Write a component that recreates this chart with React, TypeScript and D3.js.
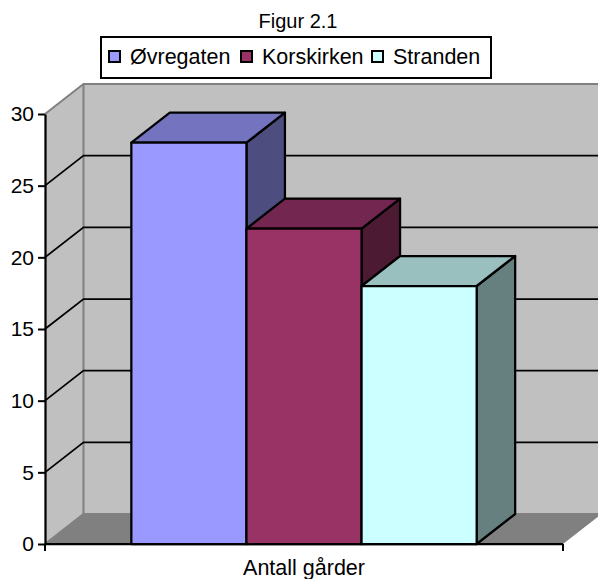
import { useEffect, useRef } from "react";
import * as d3 from "d3";

const title = "Figur 2.1";
const category = "Antall gårder";
const seriesNames = ["Øvregaten", "Korskirken", "Stranden"];
const seriesValues = [28, 22, 18];
const frontColors = ["#9999ff", "#993366", "#ccffff"];
const topColors = ["#7373bf", "#732650", "#99bfbf"];
const sideColors = ["#4d4d80", "#4d1a33", "#668080"];
const yTicks = [0, 5, 10, 15, 20, 25, 30];
const legendSwatchX = [109, 241, 372];

const width = 598;
const height = 579;
const fontFamily = "'Liberation Sans', Arial, sans-serif";

export default function App() {
  const svgRef = useRef<SVGSVGElement>(null);

  useEffect(() => {
    if (!svgRef.current) return;

    // Clear previous content
    d3.select(svgRef.current).selectAll("*").remove();
    const svg = d3.select(svgRef.current);

    const x0 = 45;
    const x1 = 563;
    const depthX = 38.5;
    const depthY = -30;

    const y = d3.scaleLinear().domain([0, 30]).range([544, 114]);
    const x = d3
      .scaleBand<string>()
      .domain(seriesNames)
      .range([x0, x1])
      .paddingInner(0)
      .paddingOuter(0.75);

    const poly = (pts: number[][]) => pts.map((p) => p.join(",")).join(" ");
    const yTop = y(30);
    const yBase = y(0);

    // Walls and floor
    svg
      .append("polygon")
      .attr("points", poly([[x0 + depthX, yTop + depthY], [x1 + depthX, yTop + depthY], [x1 + depthX, yBase + depthY], [x0 + depthX, yBase + depthY]]))
      .attr("fill", "#c0c0c0");
    svg
      .append("polygon")
      .attr("points", poly([[x0, yTop], [x0 + depthX, yTop + depthY], [x0 + depthX, yBase + depthY], [x0, yBase]]))
      .attr("fill", "#c0c0c0");
    svg
      .append("polygon")
      .attr("points", poly([[x0, yBase], [x0 + depthX, yBase + depthY], [x1 + depthX, yBase + depthY], [x1, yBase]]))
      .attr("fill", "#808080");

    // Wall edges
    svg
      .append("polyline")
      .attr("points", poly([[x0, yTop], [x0 + depthX, yTop + depthY], [width, yTop + depthY]]))
      .attr("fill", "none")
      .attr("stroke", "#808080")
      .attr("stroke-width", 2);
    svg
      .append("polyline")
      .attr("points", poly([[x0, yBase], [x0 + depthX, yBase + depthY], [width, yBase + depthY]]))
      .attr("fill", "none")
      .attr("stroke", "#808080")
      .attr("stroke-width", 2);
    svg
      .append("line")
      .attr("x1", x0 + depthX)
      .attr("x2", x0 + depthX)
      .attr("y1", yTop + depthY)
      .attr("y2", yBase + depthY)
      .attr("stroke", "#808080")
      .attr("stroke-width", 2);

    // Gridlines
    yTicks
      .filter((t) => t > 0 && t < 30)
      .forEach((t) => {
        svg
          .append("polyline")
          .attr("points", poly([[x0, y(t)], [x0 + depthX, y(t) + depthY], [width, y(t) + depthY]]))
          .attr("fill", "none")
          .attr("stroke", "#000")
          .attr("stroke-width", 1.75);
      });

    // Bars
    seriesNames.forEach((name, i) => {
      const left = x(name) as number;
      const right = left + x.bandwidth();
      const top = y(seriesValues[i]);
      const g = svg
        .append("g")
        .attr("stroke", "#000")
        .attr("stroke-width", 2.25)
        .attr("stroke-linejoin", "round");
      g.append("polygon")
        .attr("points", poly([[right, top], [right + depthX, top + depthY], [right + depthX, yBase + depthY], [right, yBase]]))
        .attr("fill", sideColors[i]);
      g.append("polygon")
        .attr("points", poly([[left, top], [left + depthX, top + depthY], [right + depthX, top + depthY], [right, top]]))
        .attr("fill", topColors[i]);
      g.append("rect")
        .attr("x", left)
        .attr("y", top)
        .attr("width", right - left)
        .attr("height", yBase - top)
        .attr("fill", frontColors[i]);
    });

    // Y axis
    const yAxis = svg
      .append("g")
      .attr("transform", `translate(${x0},0)`)
      .call(d3.axisLeft(y).tickValues(yTicks).tickSize(7).tickSizeOuter(0).tickPadding(4));
    yAxis.select(".domain").attr("stroke", "#000").attr("stroke-width", 2.25);
    yAxis.selectAll(".tick line").attr("stroke", "#000").attr("stroke-width", 2);
    yAxis
      .selectAll("text")
      .attr("font-family", fontFamily)
      .attr("font-size", 21)
      .attr("fill", "#000");

    // X axis
    svg
      .append("line")
      .attr("x1", x0)
      .attr("x2", x1)
      .attr("y1", yBase)
      .attr("y2", yBase)
      .attr("stroke", "#000")
      .attr("stroke-width", 2.25);
    [x0, x1].forEach((tx) => {
      svg
        .append("line")
        .attr("x1", tx)
        .attr("x2", tx)
        .attr("y1", yBase)
        .attr("y2", yBase + 7)
        .attr("stroke", "#000")
        .attr("stroke-width", 2);
    });

    const addText = (label: string, tx: number, ty: number, anchor: string, size: number) =>
      svg
        .append("text")
        .attr("x", tx)
        .attr("y", ty)
        .attr("text-anchor", anchor)
        .attr("font-family", fontFamily)
        .attr("font-size", size)
        .attr("fill", "#000")
        .text(label);

    addText(category, 304, 575, "middle", 21.5);
    addText(title, 298, 28, "middle", 20);

    // Legend
    svg
      .append("rect")
      .attr("x", 101)
      .attr("y", 37)
      .attr("width", 390)
      .attr("height", 41)
      .attr("fill", "#fff")
      .attr("stroke", "#000")
      .attr("stroke-width", 2);
    seriesNames.forEach((name, i) => {
      svg
        .append("rect")
        .attr("x", legendSwatchX[i])
        .attr("y", 51)
        .attr("width", 11)
        .attr("height", 11)
        .attr("fill", frontColors[i])
        .attr("stroke", "#000")
        .attr("stroke-width", 2);
      addText(name, legendSwatchX[i] + 21, 64, "start", 21.5);
    });
  }, []);

  return (
    <svg
      ref={svgRef}
      width={width}
      height={height}
      viewBox={`0 0 ${width} ${height}`}
      style={{ position: "absolute", left: 0, top: 0 }}
    ></svg>
  );
}
